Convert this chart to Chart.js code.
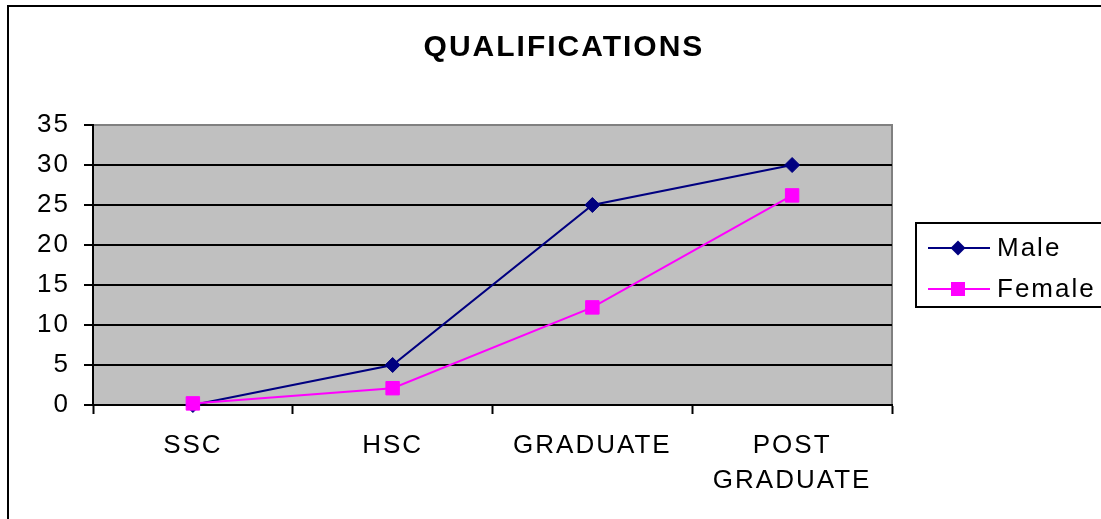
<!DOCTYPE html>
<html lang="en">
<head>
<meta charset="UTF-8">
<title>Qualifications</title>
<style>
  body { margin: 0; background: #fff; }
</style>
</head>
<body>
<canvas id="qualCanvas" width="1101" height="519"></canvas>
<script src="https://cdn.jsdelivr.net/npm/chart.js"></script>
<script>
var categories = ['SSC', 'HSC', 'GRADUATE', ['POST', 'GRADUATE']];
var maleValues = [0, 5, 25, 30];
var femaleValues = [0.2, 2.1, 12.2, 26.2];
var yTicks = [0, 5, 10, 15, 20, 25, 30, 35];
var chartTitle = 'QUALIFICATIONS';
var seriesNames = ['Male', 'Female'];

var fontFamily = "'Liberation Sans', Arial, sans-serif";
Chart.defaults.font.family = fontFamily;
Chart.defaults.color = '#000';

// background, plot frame, outer border, title and legend box
var frame = {
    id: 'frame',
    beforeDraw: function(chart) {
        var c = chart.ctx, a = chart.chartArea;
        c.save();
        c.fillStyle = '#fff';
        c.fillRect(0, 0, chart.width, chart.height);
        c.fillStyle = '#c0c0c0';
        c.fillRect(a.left, a.top, a.right - a.left, a.bottom - a.top);
        c.strokeStyle = '#808080';
        c.lineWidth = 2;
        c.beginPath();
        c.moveTo(a.left, a.top);
        c.lineTo(a.right, a.top);
        c.lineTo(a.right, a.bottom);
        c.stroke();
        c.restore();
        // the original text is drawn a bit wide
        c.letterSpacing = '2px';
    },
    afterDraw: function(chart) {
        var c = chart.ctx;
        c.save();
        // outer border, runs off the right and bottom
        c.strokeStyle = '#000';
        c.lineWidth = 2;
        c.strokeRect(8, 6, 1200, 600);

        // title
        c.fillStyle = '#000';
        c.font = 'bold 30px ' + fontFamily;
        c.letterSpacing = '2px';
        c.textAlign = 'center';
        c.textBaseline = 'alphabetic';
        c.fillText(chartTitle, 564, 56);

        // legend
        c.strokeRect(916, 223, 200, 84);
        var rows = [248, 289];
        chart.data.datasets.forEach(function(ds, i) {
            var y = rows[i];
            c.strokeStyle = ds.borderColor;
            c.lineWidth = 2;
            c.beginPath();
            c.moveTo(928, y);
            c.lineTo(990, y);
            c.stroke();
            c.fillStyle = ds.pointBackgroundColor;
            c.beginPath();
            if (ds.pointStyle === 'rectRot') {
                c.moveTo(958, y - 7.5);
                c.lineTo(965.5, y);
                c.lineTo(958, y + 7.5);
                c.lineTo(950.5, y);
                c.closePath();
            } else {
                c.rect(951, y - 7, 14, 14);
            }
            c.fill();
            c.fillStyle = '#000';
            c.font = '26px ' + fontFamily;
            c.textAlign = 'left';
            c.textBaseline = 'middle';
            c.fillText(ds.label, 997, y + 1);
        });
        c.restore();
        c.letterSpacing = '0px';
    }
};

var ctx = document.getElementById('qualCanvas').getContext('2d');
var qualChart = new Chart(ctx, {
    type: 'line',
    data: {
        labels: categories,
        datasets: [{
            label: seriesNames[0],
            data: maleValues,
            borderColor: '#000080',
            backgroundColor: '#000080',
            pointBackgroundColor: '#000080',
            pointBorderColor: '#000080',
            pointStyle: 'rectRot',
            pointRadius: 7.5,
            pointBorderWidth: 1,
            borderWidth: 2,
            tension: 0,
            clip: false,
            order: 1
        }, {
            label: seriesNames[1],
            data: femaleValues,
            borderColor: '#ff00ff',
            backgroundColor: '#ff00ff',
            pointBackgroundColor: '#ff00ff',
            pointBorderColor: '#ff00ff',
            pointStyle: 'rect',
            pointRadius: 9.5,
            pointBorderWidth: 1,
            borderWidth: 2,
            tension: 0,
            clip: false,
            order: 0
        }]
    },
    options: {
        responsive: false,
        animation: false,
        layout: { padding: { left: 0, top: 125, right: 209, bottom: 0 } },
        plugins: {
            legend: { display: false },
            title: { display: false },
            tooltip: { enabled: false }
        },
        scales: {
            x: {
                type: 'category',
                offset: true,
                grid: {
                    offset: true,
                    drawOnChartArea: false,
                    drawTicks: true,
                    tickLength: 9,
                    tickColor: '#000',
                    tickWidth: 2
                },
                border: { color: '#000', width: 2 },
                ticks: {
                    font: { size: 26, lineHeight: 1.36 },
                    padding: 14,
                    maxRotation: 0,
                    autoSkip: false
                },
                afterFit: function(scale) { scale.height = 114; }
            },
            y: {
                min: yTicks[0],
                max: yTicks[yTicks.length - 1],
                ticks: {
                    stepSize: yTicks[1] - yTicks[0],
                    font: { size: 26 },
                    padding: 14
                },
                grid: {
                    color: function(c) { return c.tick && c.tick.value === yTicks[yTicks.length - 1] ? '#808080' : '#000'; },
                    lineWidth: 2,
                    tickLength: 9,
                    tickColor: '#000',
                    tickWidth: 2
                },
                border: { color: '#000', width: 2 },
                afterFit: function(scale) { scale.width = 93; }
            }
        }
    },
    plugins: [frame]
});
</script>
</body>
</html>
